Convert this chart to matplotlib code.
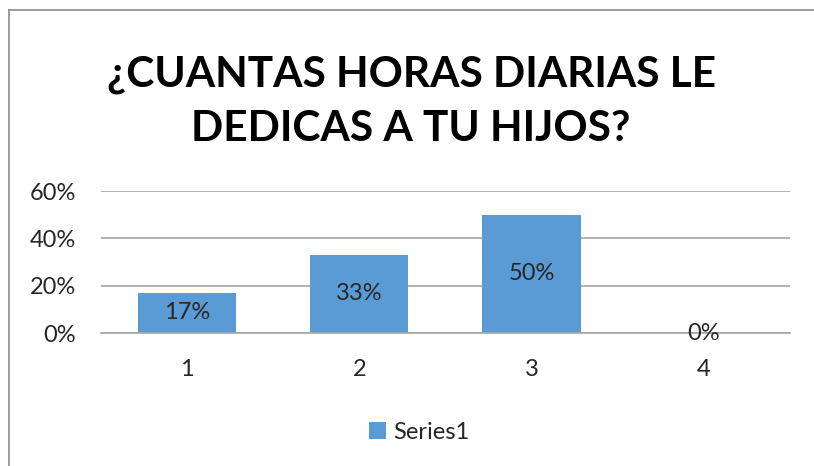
import matplotlib.pyplot as plt
from matplotlib.lines import Line2D
from matplotlib.ticker import PercentFormatter

plt.rcParams['font.family'] = ['Lato', 'DejaVu Sans']

categories = ['1', '2', '3', '4']
values = [0.17, 0.33, 0.50, 0.0]
labels = ['17%', '33%', '50%', '0%']
title = '¿CUANTAS HORAS DIARIAS LE\nDEDICAS A TU HIJOS?'

bar_color = '#5B9BD5'
grid_color = '#A6A6A6'
text_color = '#262626'

fig = plt.figure(figsize=(8.14, 4.66), dpi=100)
ax = fig.add_axes([0.124, 0.2854, 0.8465, 0.3046])

x = range(len(categories))
bars = ax.bar(x, values, width=0.57, color=bar_color, zorder=2, label='Series1')

for i, b in enumerate(bars):
    ax.text(b.get_x() + b.get_width() / 2, values[i] / 2, labels[i],
            ha='center', va='center', fontsize=17, color=text_color, zorder=3)

ax.set_xlim(-0.5, 3.5)
ax.set_ylim(0, 0.6)
ax.set_yticks([0, 0.2, 0.4, 0.6])
ax.yaxis.set_major_formatter(PercentFormatter(1.0, decimals=0))
ax.set_xticks(list(x))
ax.set_xticklabels(categories)
ax.tick_params(axis='both', length=0, labelsize=17, labelcolor=text_color)
ax.tick_params(axis='y', pad=18)
ax.tick_params(axis='x', pad=19)
ax.grid(axis='y', color=grid_color, linewidth=1.2, zorder=0)
for s in ['top', 'right', 'left']:
    ax.spines[s].set_visible(False)
ax.spines['bottom'].set_color(grid_color)
ax.spines['bottom'].set_linewidth(1.2)

fig.text(0.505, 0.782, title, ha='center', va='center', fontsize=30.5,
         fontweight='bold', color='black', linespacing=1.5)

fig.legend(loc='center', bbox_to_anchor=(0.515, 0.072), frameon=False,
           fontsize=17, handlelength=0.7, handleheight=0.7, handletextpad=0.3,
           labelcolor=text_color)

# chart border (top and left visible)
fig.add_artist(Line2D([9 / 814, 1.0], [1 - 10 / 466, 1 - 10 / 466],
                      transform=fig.transFigure, color='#8C8C8C', linewidth=1.2))
fig.add_artist(Line2D([9 / 814, 9 / 814], [0, 1 - 10 / 466],
                      transform=fig.transFigure, color='#8C8C8C', linewidth=1.2))

fig.savefig('out.png', dpi=100)
